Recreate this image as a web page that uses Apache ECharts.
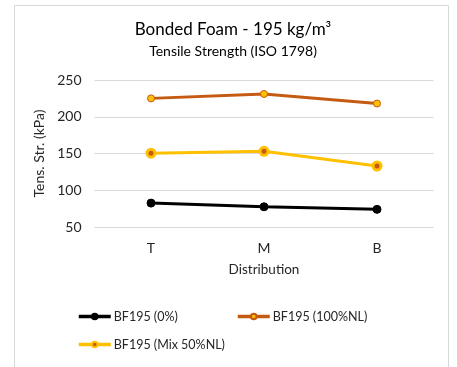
<!DOCTYPE html>
<html>
<head>
<meta charset="utf-8">
<script src="https://cdn.jsdelivr.net/npm/echarts@6/dist/echarts.min.js"></script>
<style>
  html, body { margin: 0; padding: 0; background: #ffffff; }
  #chart { width: 457px; height: 367px; }
</style>
</head>
<body>
<div id="chart"></div>
<script>
// Tensile strength by position in the block (Top / Middle / Bottom)
const categories = ['T', 'M', 'B'];
const seriesNames = ['BF195 (0%)', 'BF195 (100%NL)', 'BF195 (Mix 50%NL)'];
const bf0 = [82.5, 77.5, 74];
const bf100NL = [225, 231, 218];
const bfMix50NL = [150.5, 153, 133];
const yTicks = [50, 100, 150, 200, 250];

const FONT = 'Lato, "Open Sans", sans-serif';
const ORANGE = '#C55A11';
const YELLOW = '#FFC000';
const TEXT = '#262626';

const chart = echarts.init(document.getElementById('chart'), null, { renderer: 'canvas' });

const legendBase = {
  itemWidth: 32, itemHeight: 7, itemGap: 0, padding: 0,
  lineStyle: { width: 3.5 },
  textStyle: { fontFamily: FONT, fontSize: 12.5, color: TEXT, padding: [0, 0, 0, -2] }
};

chart.setOption({
  backgroundColor: '#ffffff',
  animation: false,
  textStyle: { fontFamily: FONT },
  graphic: [
    {
      type: 'rect',
      shape: { x: 14.5, y: 5.5, width: 434, height: 380 },
      style: { fill: 'none', stroke: '#d9d9d9', lineWidth: 1 },
      silent: true
    },
    {
      type: 'text',
      x: 233, y: 30,
      style: {
        text: 'Bonded Foam - 195 kg/m³',
        font: '17px ' + FONT,
        fill: '#000000',
        align: 'center',
        verticalAlign: 'middle'
      }
    },
    {
      type: 'text',
      x: 233, y: 51,
      style: {
        text: 'Tensile Strength (ISO 1798)',
        font: '14px ' + FONT,
        fill: '#000000',
        align: 'center',
        verticalAlign: 'middle'
      }
    }
  ],
  grid: { left: 94.5, right: 23.5, top: 80, bottom: 140, containLabel: false },
  legend: [
    Object.assign({ data: [seriesNames[0]], left: 77, top: 310 }, legendBase),
    Object.assign({ data: [seriesNames[1]], left: 236, top: 310 }, legendBase),
    Object.assign({ data: [seriesNames[2]], left: 77, top: 338 }, legendBase)
  ],
  xAxis: {
    type: 'category',
    data: categories,
    boundaryGap: true,
    name: 'Distribution',
    nameLocation: 'middle',
    nameGap: 36,
    nameTextStyle: { fontFamily: FONT, fontSize: 13.5, color: TEXT },
    axisLine: { show: false },
    axisTick: { show: false },
    axisLabel: { margin: 14, fontFamily: FONT, fontSize: 14, color: TEXT }
  },
  yAxis: {
    type: 'value',
    min: yTicks[0],
    max: yTicks[yTicks.length - 1],
    interval: 50,
    name: 'Tens. Str. (kPa)',
    nameLocation: 'middle',
    nameGap: 43,
    nameTextStyle: { fontFamily: FONT, fontSize: 14, color: TEXT },
    axisLine: { show: false },
    axisTick: { show: false },
    axisLabel: { margin: 13, fontFamily: FONT, fontSize: 14, color: TEXT },
    splitLine: { lineStyle: { color: '#d9d9d9', width: 1 } }
  },
  series: [
    {
      name: seriesNames[0], type: 'line', data: bf0,
      symbol: 'circle', symbolSize: 8,
      lineStyle: { color: '#000000', width: 3 },
      itemStyle: { color: '#000000', borderColor: '#000000', borderWidth: 1 }
    },
    {
      name: seriesNames[1], type: 'line', data: bf100NL,
      symbol: 'circle', symbolSize: 7,
      lineStyle: { color: ORANGE, width: 3 },
      itemStyle: { color: YELLOW, borderColor: ORANGE, borderWidth: 1 }
    },
    {
      name: seriesNames[2], type: 'line', data: bfMix50NL,
      symbol: 'circle', symbolSize: 8,
      lineStyle: { color: YELLOW, width: 3 },
      itemStyle: { color: ORANGE, borderColor: YELLOW, borderWidth: 3 }
    }
  ]
});
</script>
</body>
</html>
